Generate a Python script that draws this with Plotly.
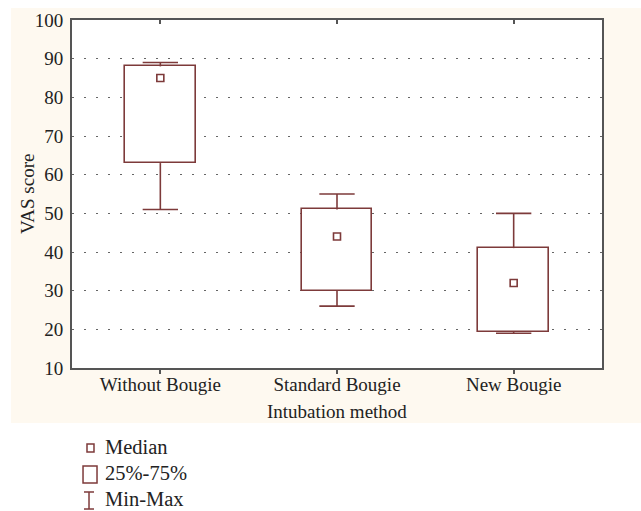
import plotly.graph_objects as go

# ---- data ----
categories = ["Without Bougie", "Standard Bougie", "New Bougie"]
minimum = [51, 26, 19]
q1 = [63, 30, 19.3]
median = [85, 44, 32]
q3 = [88, 51, 41]
maximum = [89, 55, 50]
legend_labels = ["Median", "25%-75%", "Min-Max"]
y_ticks = [10, 20, 30, 40, 50, 60, 70, 80, 90, 100]
x_title = "Intubation method"
y_title = "VAS score"

MAROON = "#7d3a3a"
AXIS = "#555555"
FONT = "Liberation Serif"
CREAM = "#fef9f0"
TXT = "#222222"
CAP_HALF = 0.1  # whisker cap half-width, in category units

pos = list(range(len(categories)))  # category slot index on the x axis
n = len(categories)

fig = go.Figure()

# upper whiskers: point at max, stem down to Q3, cap via horizontal error bar
fig.add_trace(go.Scatter(
    x=pos, y=maximum, mode="markers",
    marker=dict(size=1, color=MAROON, opacity=0),
    error_y=dict(type="data", symmetric=False,
                 array=[0] * n,
                 arrayminus=[mx - q for mx, q in zip(maximum, q3)],
                 width=0, color=MAROON, thickness=1.6),
    error_x=dict(type="data", symmetric=True, array=[CAP_HALF] * n, width=0,
                 color=MAROON, thickness=1.6),
    showlegend=False, hoverinfo="skip"))
# lower whiskers: point at min, stem up to Q1
fig.add_trace(go.Scatter(
    x=pos, y=minimum, mode="markers",
    marker=dict(size=1, color=MAROON, opacity=0),
    error_y=dict(type="data", symmetric=False,
                 array=[q - mn for q, mn in zip(q1, minimum)],
                 arrayminus=[0] * n,
                 width=0, color=MAROON, thickness=1.6),
    error_x=dict(type="data", symmetric=True, array=[CAP_HALF] * n, width=0,
                 color=MAROON, thickness=1.6),
    showlegend=False, hoverinfo="skip"))

# boxes 25%-75%
fig.add_trace(go.Bar(
    x=pos, y=[b - a for a, b in zip(q1, q3)], base=q1, width=0.4,
    marker=dict(color="white", line=dict(color=MAROON, width=1.6)),
    showlegend=False))

# medians
fig.add_trace(go.Scatter(
    x=pos, y=median, mode="markers",
    marker=dict(symbol="square", size=7, color="white",
                line=dict(color=MAROON, width=1.6)),
    showlegend=False))

shapes = [
    # cream background panel
    dict(type="rect", xref="paper", yref="paper", x0=-0.1151, x1=1.08,
         y0=-0.158, y1=1.0345, fillcolor=CREAM, line=dict(width=0), layer="below"),
    # white plotting area
    dict(type="rect", xref="paper", yref="paper", x0=0, x1=1, y0=0, y1=1,
         fillcolor="white", line=dict(width=0), layer="below"),
    # legend glyphs
    dict(type="rect", xref="paper", yref="paper", x0=0.0283, x1=0.0415,
         y0=-0.2414, y1=-0.2184, fillcolor="white", line=dict(color=MAROON, width=1.5)),
    dict(type="rect", xref="paper", yref="paper", x0=0.0208, x1=0.0472,
         y0=-0.3305, y1=-0.2816, fillcolor="white", line=dict(color=MAROON, width=1.5)),
    dict(type="line", xref="paper", yref="paper", x0=0.0321, x1=0.0321,
         y0=-0.4052, y1=-0.3563, line=dict(color=MAROON, width=1.5)),
    dict(type="line", xref="paper", yref="paper", x0=0.0226, x1=0.0415,
         y0=-0.3563, y1=-0.3563, line=dict(color=MAROON, width=1.5)),
    dict(type="line", xref="paper", yref="paper", x0=0.0226, x1=0.0415,
         y0=-0.4052, y1=-0.4052, line=dict(color=MAROON, width=1.5)),
]

annotations = []
for lbl, yy in zip(legend_labels, [-0.227, -0.3017, -0.3764]):
    annotations.append(dict(text=lbl, xref="paper", yref="paper", x=0.0585, y=yy,
                            xanchor="left", yanchor="middle", showarrow=False,
                            font=dict(family=FONT, size=20.5, color=TXT)))
# axis titles
annotations.append(dict(text=x_title, xref="paper", yref="paper", x=0.5, y=-0.1264,
                        xanchor="center", yanchor="middle", showarrow=False,
                        font=dict(family=FONT, size=19, color=TXT)))
annotations.append(dict(text=y_title, xref="paper", yref="paper", x=-0.0849, y=0.5,
                        xanchor="center", yanchor="middle", showarrow=False,
                        textangle=-90, font=dict(family=FONT, size=19, color=TXT)))

fig.update_layout(
    width=641, height=511,
    margin=dict(l=72, r=39, t=20, b=143, autoexpand=False),
    paper_bgcolor="white", plot_bgcolor="white",
    font=dict(family=FONT, size=19, color=TXT),
    shapes=shapes, annotations=annotations,
    showlegend=False, bargap=0,
    xaxis=dict(
        range=[-0.5, n - 0.5], tickmode="array", tickvals=pos, ticktext=categories,
        showline=True, linecolor=AXIS, linewidth=2, mirror=True,
        ticks="outside", ticklen=4, tickcolor=AXIS, tickwidth=1.5,
        ticklabelstandoff=-6,
        showgrid=False, zeroline=False,
        tickfont=dict(family=FONT, size=19, color=TXT),
    ),
    xaxis2=dict(
        overlaying="x", anchor="y", side="top", range=[-0.5, n - 0.5],
        tickmode="array", tickvals=pos, showticklabels=False,
        ticks="inside", ticklen=4, tickcolor=AXIS, tickwidth=1.5,
        showgrid=False, showline=False, zeroline=False,
    ),
    yaxis=dict(
        range=[10, 100], tickmode="array", tickvals=y_ticks,
        showline=True, linecolor=AXIS, linewidth=2, mirror=True,
        ticks="outside", ticklen=3, tickcolor="rgba(0,0,0,0)",
        showgrid=True, gridcolor="#666666", gridwidth=1, griddash="2px,10px",
        zeroline=False,
        tickfont=dict(family=FONT, size=19, color=TXT),
    ),
)

# invisible trace to activate the top tick axis
fig.add_trace(go.Scatter(x=[pos[0], pos[-1]], y=[None, None], xaxis="x2", yaxis="y",
                         mode="markers", showlegend=False, hoverinfo="skip"))

fig.write_html("out.html", config={"displayModeBar": False},
               post_script="document.body.style.margin='0px';document.body.style.padding='0px';")
